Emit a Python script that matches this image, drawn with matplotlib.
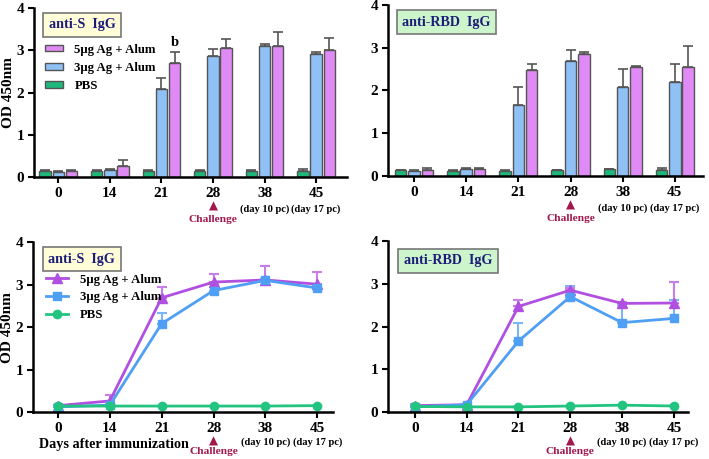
import numpy as np
import matplotlib
matplotlib.use("Agg")
import matplotlib.pyplot as plt

# данные
days = ["0", "14", "21", "28", "38", "45"]
sub_labels = {4: "(day 10 pc)", 5: "(day 17 pc)"}
groups = ["5µg Ag + Alum", "3µg Ag + Alum", "PBS"]

# anti-S IgG
s_pbs = [0.14, 0.14, 0.14, 0.14, 0.14, 0.15]
s_pbs_err = [0.02, 0.02, 0.02, 0.02, 0.02, 0.04]
s_3ug = [0.12, 0.16, 2.08, 2.86, 3.10, 2.92]
s_3ug_err = [0.03, 0.03, 0.26, 0.16, 0.04, 0.04]
s_5ug = [0.15, 0.26, 2.69, 3.06, 3.11, 3.01]
s_5ug_err = [0.02, 0.15, 0.26, 0.20, 0.33, 0.28]

# anti-RBD IgG
r_pbs = [0.13, 0.12, 0.12, 0.14, 0.16, 0.14]
r_pbs_err = [0.01, 0.01, 0.01, 0.01, 0.01, 0.05]
r_3ug = [0.12, 0.17, 1.66, 2.70, 2.09, 2.19]
r_3ug_err = [0.02, 0.02, 0.42, 0.25, 0.42, 0.44]
r_5ug = [0.15, 0.17, 2.47, 2.85, 2.54, 2.55]
r_5ug_err = [0.03, 0.02, 0.15, 0.06, 0.04, 0.48]

plt.rcParams["font.family"] = ["Liberation Serif", "DejaVu Sans"]
plt.rcParams["font.weight"] = "bold"

NAVY = "#1c1c78"
RED = "#a0184e"
bar_cols = {"PBS": "#1db87a", "3": "#8fc1f7", "5": "#e08af5"}
line_cols = {"PBS": "#22c47f", "3": "#4f9ff5", "5": "#b150e0"}
err_cols = {"PBS": "#22c47f", "3": "#7ab5f5", "5": "#c77ee8"}

fig = plt.figure(figsize=(7.09, 4.59), dpi=100)
ax_tl = fig.add_axes([0.048, 0.6144, 0.4415, 0.368])
ax_tr = fig.add_axes([0.5472, 0.6166, 0.4443, 0.3725])
ax_bl = fig.add_axes([0.0465, 0.1024, 0.423, 0.370])
ax_br = fig.add_axes([0.5472, 0.1024, 0.423, 0.3725])

x = np.arange(len(days))


def style_axis(ax, xlim, tight=False):
    ax.set_xlim(*xlim)
    ax.set_ylim(0, 4)
    ax.set_yticks([0, 1, 2, 3, 4])
    ax.set_xticks(x)
    ax.set_xticklabels(days)
    for sp in ["top", "right"]:
        ax.spines[sp].set_visible(False)
    for sp in ["left", "bottom"]:
        ax.spines[sp].set_linewidth(1.8)
    ax.tick_params(direction="out", length=4, width=1.5, labelsize=11, pad=3)
    for lab in ax.get_xticklabels() + ax.get_yticklabels():
        lab.set_fontweight("bold")
    # подписи под тиками
    sub_y, tri_y, ch_y = (-18.5, -16, -25) if tight else (-19.5, -16.5, -27.5)
    for i, s in sub_labels.items():
        ax.annotate(s, xy=(x[i], 0), xycoords=("data", "axes fraction"),
                    xytext=(0, sub_y), textcoords="offset points",
                    ha="center", va="top", fontsize=7.6, fontweight="bold")
    ax.annotate("▲", xy=(x[3], 0), xycoords=("data", "axes fraction"),
                xytext=(0, tri_y), textcoords="offset points",
                ha="center", va="top", fontsize=8.5, color=RED,
                family=["DejaVu Sans"])
    ax.annotate("Challenge", xy=(x[3], 0), xycoords=("data", "axes fraction"),
                xytext=(0, ch_y), textcoords="offset points",
                ha="center", va="top", fontsize=8.2, fontweight="bold", color=RED)


def title_box(ax, txt, fc, pos):
    ax.text(pos[0], pos[1], txt, transform=ax.transAxes, ha="center", va="center",
            fontsize=10.2, fontweight="bold", color=NAVY,
            bbox=dict(boxstyle="square,pad=0.4", fc=fc, ec="#777777", lw=1.2))


def bars(ax, pbs, pbs_e, u3, u3_e, u5, u5_e):
    w = 0.22
    off = 0.255
    ek = dict(ecolor="#555555", elinewidth=1.2, capsize=3.5, capthick=1.2)
    z = np.zeros(len(x))
    b_p = ax.bar(x - off, pbs, w, color=bar_cols["PBS"], edgecolor="#555555", lw=1,
                 yerr=[z, pbs_e], error_kw=ek)
    b_3 = ax.bar(x, u3, w, color=bar_cols["3"], edgecolor="#555555", lw=1,
                 yerr=[z, u3_e], error_kw=ek)
    b_5 = ax.bar(x + off, u5, w, color=bar_cols["5"], edgecolor="#555555", lw=1,
                 yerr=[z, u5_e], error_kw=ek)
    return b_5, b_3, b_p


def lines(ax, pbs, pbs_e, u3, u3_e, u5, u5_e):
    z = np.zeros(len(x))
    h5 = ax.errorbar(x, u5, yerr=[z, u5_e], color=line_cols["5"], ecolor=err_cols["5"],
                     marker="^", ms=6.5, lw=2, elinewidth=1.5, capsize=3.5, capthick=1.5)
    h3 = ax.errorbar(x, u3, yerr=[z, u3_e], color=line_cols["3"], ecolor=err_cols["3"],
                     marker="s", ms=6, lw=2, elinewidth=1.5, capsize=3.5, capthick=1.5)
    hp = ax.errorbar(x, pbs, yerr=[z, pbs_e], color=line_cols["PBS"], ecolor=err_cols["PBS"],
                     marker="o", ms=6, lw=2, elinewidth=1.2, capsize=2, capthick=1.2)
    return h5[0], h3[0], hp[0]


# верх слева - столбцы anti-S
hb = bars(ax_tl, s_pbs, s_pbs_err, s_3ug, s_3ug_err, s_5ug, s_5ug_err)
style_axis(ax_tl, (-0.47, 5.6))
ax_tl.set_ylabel("OD 450nm", fontsize=11, fontweight="bold")
ax_tl.yaxis.set_label_coords(-0.062, 0.5)
title_box(ax_tl, "anti-S  IgG", "#fffcd8", (0.153, 0.90))
ax_tl.legend(hb, groups, loc="upper left", bbox_to_anchor=(0.035, 0.79), frameon=False,
             borderpad=0, borderaxespad=0, handlelength=1.4, handleheight=0.45,
             handletextpad=0.9, labelspacing=0.5, prop={"size": 9.2, "weight": "bold"})
ax_tl.text(x[2] + 0.255, s_5ug[2] + s_5ug_err[2] + 0.08, "b", ha="center", va="bottom",
           fontsize=10.5, fontweight="bold")

# верх справа - столбцы anti-RBD
bars(ax_tr, r_pbs, r_pbs_err, r_3ug, r_3ug_err, r_5ug, r_5ug_err)
style_axis(ax_tr, (-0.5, 5.54))
title_box(ax_tr, "anti-RBD  IgG", "#ccf5cc", (0.186, 0.90))

# низ слева - линии anti-S
hl = lines(ax_bl, s_pbs, s_pbs_err, s_3ug, s_3ug_err, s_5ug, s_5ug_err)
style_axis(ax_bl, (-0.48, 5.3), tight=True)
ax_bl.set_ylabel("OD 450nm", fontsize=11, fontweight="bold")
ax_bl.yaxis.set_label_coords(-0.062, 0.5)
title_box(ax_bl, "anti-S  IgG", "#fffcd8", (0.162, 0.90))
ax_bl.legend(hl, groups, loc="upper left", bbox_to_anchor=(0.045, 0.815), frameon=False,
             borderpad=0, borderaxespad=0, handlelength=1.7,
             handletextpad=0.9, labelspacing=0.45, prop={"size": 9.2, "weight": "bold"})
ax_bl.annotate("Days after immunization", xy=(x[1] + 0.08, 0), xycoords=("data", "axes fraction"),
               xytext=(0, -19), textcoords="offset points", ha="center", va="top",
               fontsize=10.2, fontweight="bold")

# низ справа - линии anti-RBD
lines(ax_br, r_pbs, r_pbs_err, r_3ug, r_3ug_err, r_5ug, r_5ug_err)
style_axis(ax_br, (-0.52, 5.27), tight=True)
title_box(ax_br, "anti-RBD  IgG", "#ccf5cc", (0.20, 0.885))

fig.savefig("out.png", dpi=100)
